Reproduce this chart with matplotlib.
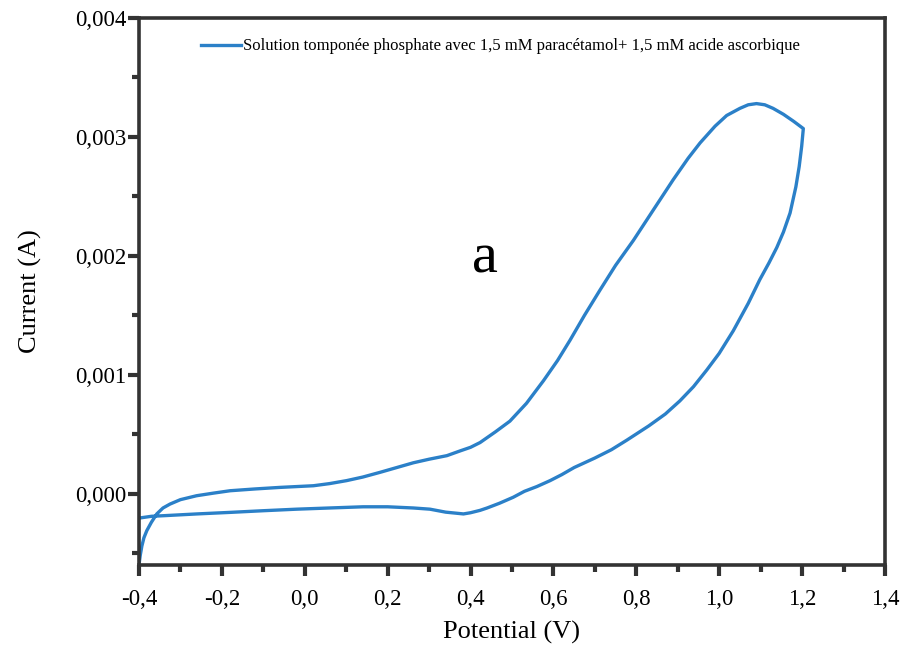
import matplotlib
matplotlib.use("Agg")
import matplotlib.pyplot as plt
from matplotlib.ticker import FuncFormatter, MultipleLocator

plt.rcParams['font.family'] = ['Liberation Serif', 'DejaVu Serif']

# balayage aller (-0,4 V -> 1,2 V)
pot_aller = [-0.400, -0.397, -0.393, -0.388, -0.381, -0.370, -0.357, -0.342, -0.325,
             -0.300, -0.261, -0.220, -0.180, -0.120, -0.060, 0.021, 0.060, 0.101,
             0.140, 0.182, 0.222, 0.262, 0.300, 0.343, 0.375, 0.400, 0.423, 0.460,
             0.495, 0.535, 0.576, 0.610, 0.640, 0.675, 0.712, 0.750, 0.793, 0.840,
             0.889, 0.925, 0.954, 0.990, 1.018, 1.050, 1.070, 1.090, 1.110, 1.130,
             1.155, 1.180, 1.203]
cur_aller = [-0.00060, -0.00052, -0.00044, -0.00037, -0.00031, -0.00024, -0.00017,
             -0.00012, -0.000087, -0.00005, -0.000017, 0.000005, 0.000025, 0.00004,
             0.000053, 0.000067, 0.000085, 0.00011, 0.00014, 0.00018, 0.00022,
             0.00026, 0.00029, 0.00032, 0.00036, 0.00039, 0.00043, 0.00052,
             0.00061, 0.00076, 0.00095, 0.00112, 0.00129, 0.00150, 0.00171,
             0.00192, 0.00213, 0.00238, 0.00264, 0.00282, 0.00295, 0.00309,
             0.00318, 0.00324, 0.00327, 0.00328, 0.00327, 0.00324, 0.00319,
             0.00313, 0.00307]

# balayage retour (1,2 V -> -0,4 V)
pot_retour = [1.199, 1.193, 1.185, 1.171, 1.155, 1.139, 1.120, 1.098, 1.070, 1.034,
              1.000, 0.970, 0.938, 0.905, 0.870, 0.830, 0.777, 0.740, 0.700, 0.650,
              0.620, 0.592, 0.560, 0.530, 0.503, 0.470, 0.440, 0.423, 0.400, 0.383,
              0.340, 0.302, 0.262, 0.200, 0.141, 0.060, -0.019, -0.100, -0.180,
              -0.260, -0.341, -0.370, -0.400]
cur_retour = [0.00292, 0.00275, 0.00258, 0.00236, 0.00220, 0.00207, 0.00194, 0.00180,
              0.00160, 0.00137, 0.00118, 0.00104, 0.00090, 0.00078, 0.00067,
              0.00057, 0.00045, 0.00037, 0.00030, 0.00022, 0.00016, 0.00011,
              0.00006, 0.00002, -0.00003, -0.00008, -0.00012, -0.00014, -0.00016,
              -0.00017, -0.000155, -0.00013, -0.00012, -0.00011, -0.00011,
              -0.00012, -0.00013, -0.000143, -0.000157, -0.00017, -0.000185,
              -0.00019, -0.000205]

potentiel = pot_aller + pot_retour
courant = cur_aller + cur_retour

fig = plt.figure(figsize=(9, 6.51), dpi=100)
ax = fig.add_axes([0.1544, 0.132, 0.8289, 0.8404])

ax.plot(potentiel, courant, color='#2b80c8', linewidth=2.4, solid_joinstyle='round',
        label='Solution tomponée phosphate avec 1,5 mM paracétamol+ 1,5 mM acide ascorbique')

ax.set_xlim(-0.4, 1.4)
ax.set_ylim(-0.0006, 0.004)
ax.xaxis.set_major_locator(MultipleLocator(0.2))
ax.xaxis.set_minor_locator(MultipleLocator(0.1))
ax.yaxis.set_major_locator(MultipleLocator(0.001))
ax.yaxis.set_minor_locator(MultipleLocator(0.0005))
ax.xaxis.set_major_formatter(FuncFormatter(lambda v, p: f"{v:.1f}".replace('.', ',').replace('-0,0', '0,0')))
ax.yaxis.set_major_formatter(FuncFormatter(lambda v, p: f"{v:.3f}".replace('.', ',').replace('-0,000', '0,000')))

for s in ax.spines.values():
    s.set_linewidth(2.6)
    s.set_color('#333333')
ax.tick_params(which='major', direction='out', length=8, width=3, color='#333333',
               labelsize=16.5)
ax.tick_params(which='minor', direction='out', length=5, width=3, color='#333333')
ax.tick_params(axis='x', which='major', pad=9)
ax.tick_params(axis='y', which='major', pad=1)

ax.set_xlabel('Potential (V)', fontsize=19, labelpad=8)
ax.set_ylabel('Current (A)', fontsize=19, labelpad=24)

ax.text(0.435, 0.00198, 'a', fontsize=42, ha='center', va='center')

ax.legend(loc='upper left', bbox_to_anchor=(0.063, 0.99), frameon=False,
          fontsize=12, handlelength=2.4, handletextpad=0.15)

fig.savefig('out.png', dpi=100)
